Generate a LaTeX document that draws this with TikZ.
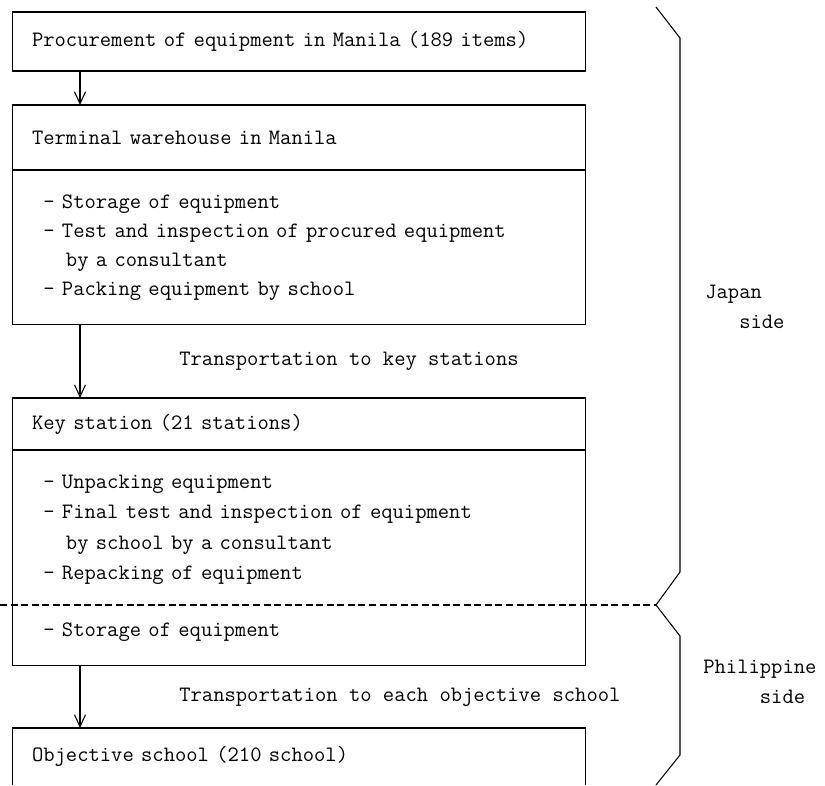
\documentclass[tikz,border=0pt]{standalone}
\usepackage{tikz}
\usetikzlibrary{positioning,arrows.meta}
\newcommand{\chsp}[1]{\hspace*{#1\fontcharwd\font`x}}

\begin{document}
\begin{tikzpicture}[x=0.02cm,y=-0.02cm,>={Straight Barb[length=2.4mm,width=2.2mm]},
  box/.style={draw,line width=0.6pt,outer sep=0pt,inner xsep=0.4cm,inner ysep=0pt,text width=10.68cm,align=left,font=\ttfamily\fontsize{12.5}{16.4}\selectfont},
  lab/.style={anchor=west,xshift=1.86cm,font=\ttfamily\fontsize{12.5}{16.4}\selectfont},
  side/.style={anchor=west,align=left,inner sep=0pt,font=\ttfamily\fontsize{12.5}{17}\selectfont}]
\useasboundingbox (0,0) rectangle (825,785);
\node[box,minimum height=1.18cm] (proc) at (299,41.5) {Procurement of equipment in Manila (189 items)};
\node[box,minimum height=1.30cm] (wareh) at (299,137.5) {Terminal warehouse in Manila};
\node[box,minimum height=3.10cm,below=0pt of wareh] (wareb) {\chsp{1}- Storage of equipment\\
\chsp{1}- Test and inspection of procured equipment\\
\chsp{3}by a consultant\\
\chsp{1}- Packing equipment by school};
\node[box,minimum height=1.04cm] (keyh) at (299,424) {Key station (21 stations)};
\node[box,minimum height=4.32cm,below=0pt of keyh,font=\ttfamily\fontsize{12.5}{17.4}\selectfont] (keyb) {\chsp{1}- Unpacking equipment\\
\chsp{1}- Final test and inspection of equipment\\
\chsp{3}by school by a consultant\\
\chsp{1}- Repacking of equipment\\[0.52cm]
\chsp{1}- Storage of equipment};
\node[box,draw=none,minimum height=1.14cm] (school) at (299,756.5) {Objective school (210 school)};
\draw[line width=0.6pt] (school.south west) -- (school.north west) -- (school.north east) -- (school.south east);
% arrows down the left side
\coordinate (ax) at (80,0);
\draw[->,line width=0.6pt] (proc.south -| ax) -- (wareh.north -| ax);
\draw[->,line width=0.6pt] (wareb.south -| ax) -- node[lab] (trkey) {Transportation to key stations} (keyh.north -| ax);
\draw[->,line width=0.6pt] (keyb.south -| ax) -- node[lab] (trsch) {Transportation to each objective school} (school.north -| ax);
% split between the two sides
\coordinate (dl) at (0,605);
\coordinate (tip) at (656,605);
\draw[line width=0.6pt,dash pattern=on 4pt off 2pt] (dl) -- (tip);
\draw[line width=0.6pt] (656,7) -- (680,38) -- (680,572) -- (tip) -- (680,636) -- (680,755) -- (656,785);
\node[side] (japan) at (705,307) {Japan\\\chsp{3}side};
\node[side] (phil) at (703,682) {Philippine\\\chsp{5}side};
\end{tikzpicture}
\end{document}
